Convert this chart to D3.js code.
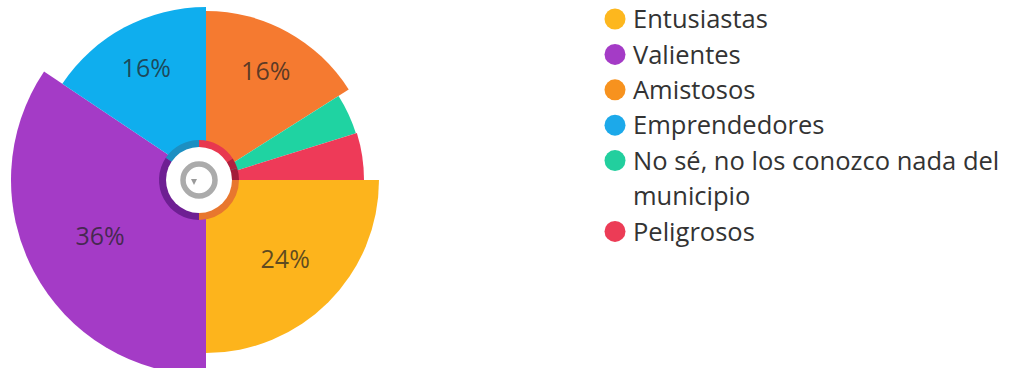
<!DOCTYPE html>
<html><head><meta charset="utf-8">
<script src="https://cdn.jsdelivr.net/npm/d3@7"></script>
<style>html,body{margin:0;padding:0;background:#fff;}svg{display:block;}</style>
</head><body>
<svg id="c" width="1014" height="368"></svg>
<script>
// Data
const legendCategories = ["Entusiastas", "Valientes", "Amistosos", "Emprendedores", "No sé, no los conozco nada del municipio", "Peligrosos"];
const pieCategories = ["Amistosos", "No sé, no los conozco nada del municipio", "Peligrosos", "Entusiastas", "Valientes", "Emprendedores"];
// slice shares as drawn in the picture
const pieValues = [16, 4.2, 4.8, 25, 34.4, 15.6];
// printed labels
const valueLabels = ["16%", "", "", "24%", "36%", "16%"];

// Styles
const sliceColors = {"Entusiastas":"#FDB41C","Valientes":"#A43BC6","Amistosos":"#F57A30","Emprendedores":"#0FAEEE","No sé, no los conozco nada del municipio":"#1FD3A2","Peligrosos":"#EE3A58"};
const legendColors = {"Entusiastas":"#FDB71E","Valientes":"#A43BC6","Amistosos":"#F7921E","Emprendedores":"#1CA9EA","No sé, no los conozco nada del municipio":"#22CF9E","Peligrosos":"#EC3C56"};
const ringColors = {"Entusiastas":"#E8772E","Valientes":"#6E1F93","Amistosos":"#E8384F","Emprendedores":"#1C8FC2","No sé, no los conozco nada del municipio":"#B0203F","Peligrosos":"#A31D3A"};
const outerRadius = {"Entusiastas":173,"Valientes":195,"Amistosos":169,"Emprendedores":173,"No sé, no los conozco nada del municipio":157,"Peligrosos":158};
const labelRadius = {"Entusiastas":112,"Valientes":120,"Amistosos":124,"Emprendedores":127};

const svg = d3.select("#c");
const cx = 206, cy = 180;
const g = svg.append("g").attr("transform", `translate(${cx},${cy})`);

const pie = d3.pie().sort(null).value(d => d.v);
const arcs = pie(pieCategories.map((c, i) => ({c, v: pieValues[i], label: valueLabels[i]})));

g.selectAll("path.slice").data(arcs).join("path")
  .attr("class", "slice")
  .attr("fill", d => sliceColors[d.data.c])
  .attr("d", d => d3.arc().innerRadius(0).outerRadius(outerRadius[d.data.c])(d));

// inner dark ring
const hole = svg.append("g").attr("transform", `translate(${cx-7},${cy})`);
hole.selectAll("path.ring").data(arcs).join("path")
  .attr("class", "ring")
  .attr("fill", d => ringColors[d.data.c])
  .attr("d", d3.arc().innerRadius(32).outerRadius(40));
hole.append("circle").attr("r", 33).attr("fill", "#fff");
hole.append("circle").attr("r", 16).attr("fill", "none").attr("stroke", "#ababab").attr("stroke-width", 5.5);
hole.append("path").attr("d", "M-8,-1 L-2,-1 L-5,5 Z").attr("fill", "#9a9a9a");

// labels
g.selectAll("text.val").data(arcs.filter(d => d.data.label)).join("text")
  .attr("class", "val")
  .attr("transform", d => {
    const r = labelRadius[d.data.c];
    return `translate(${d3.arc().innerRadius(r).outerRadius(r).centroid(d)})`;
  })
  .attr("text-anchor", "middle").attr("dy", "0.36em")
  .attr("font-family", "'Open Sans', sans-serif").attr("font-size", 25)
  .attr("fill", "#222").attr("fill-opacity", 0.72)
  .text(d => d.data.label);

// legend
const lines = [];
legendCategories.forEach(c => {
  if (c.startsWith("No sé")) {
    lines.push({c, t: "No sé, no los conozco nada del", dot: true});
    lines.push({c, t: "municipio", dot: false});
  } else lines.push({c, t: c, dot: true});
});
const lg = svg.append("g");
const y0 = 19, dy = 35.4;
lines.forEach((l, i) => {
  const y = y0 + i * dy;
  if (l.dot) lg.append("circle").attr("cx", 615).attr("cy", y).attr("r", 10.5).attr("fill", legendColors[l.c]);
  lg.append("text").attr("x", 633).attr("y", y).attr("dy", "0.36em")
    .attr("font-family", "'Open Sans', sans-serif").attr("font-size", 25.5)
    .attr("fill", "#333").text(l.t);
});
</script>
</body></html>
